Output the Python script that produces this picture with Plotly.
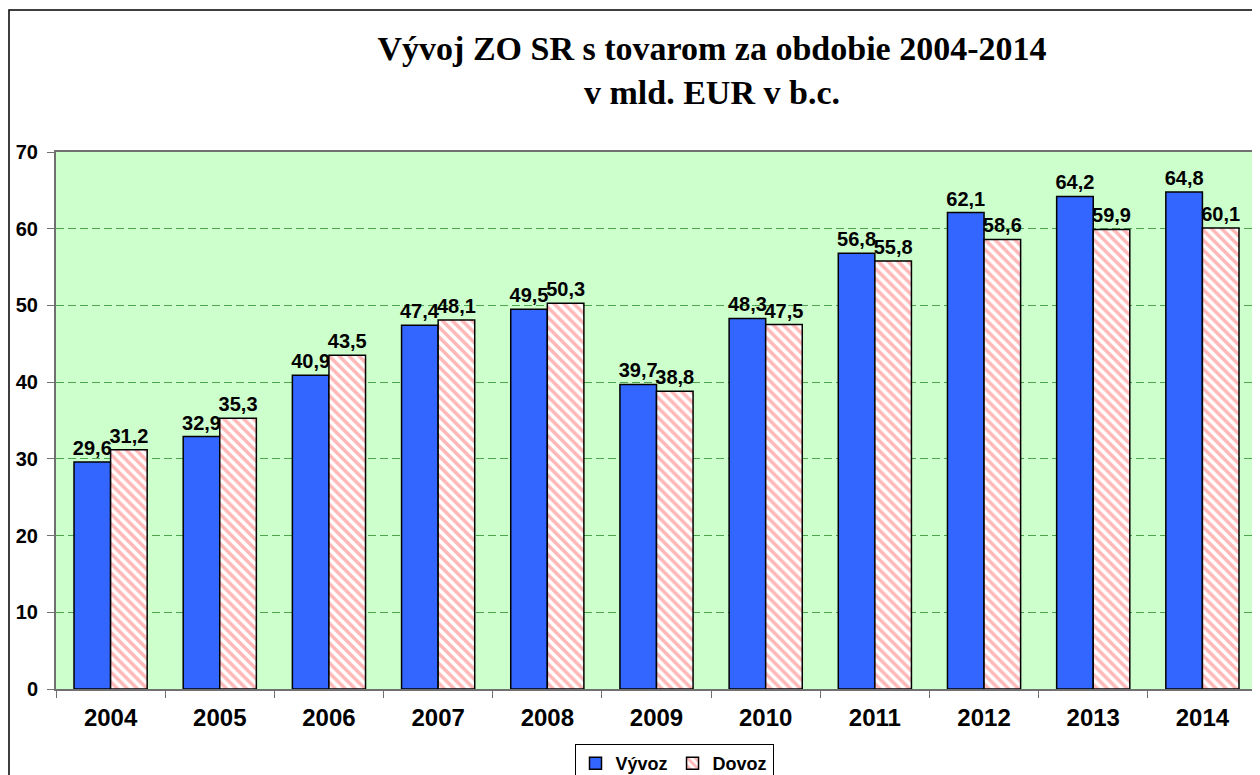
import plotly.graph_objects as go

years = ["2004", "2005", "2006", "2007", "2008", "2009", "2010", "2011", "2012", "2013", "2014"]
vyvoz = [29.6, 32.9, 40.9, 47.4, 49.5, 39.7, 48.3, 56.8, 62.1, 64.2, 64.8]
dovoz = [31.2, 35.3, 43.5, 48.1, 50.3, 38.8, 47.5, 55.8, 58.6, 59.9, 60.1]

OFF = 8  # default page body margin
W, H = 1260 - OFF, 775 - OFF
# plot area in reference pixels
L, R, T, B = 56, 1257, 152, 689

def px2x(p):
    return (p - L) / (R - L)

def py2y(p):
    return (B - p) / (B - T)

lab_font = dict(family="Liberation Sans", size=20, color="black", weight="bold")

fig = go.Figure()
fig.add_trace(go.Bar(
    x=years, y=vyvoz, name="Vývoz",
    marker=dict(color="#3366FF", line=dict(color="black", width=1.5)),
    texttemplate="%{y:.1f}", textposition="outside", constraintext="none",
    textfont=lab_font, cliponaxis=False,
))
fig.add_trace(go.Bar(
    x=years, y=dovoz, name="Dovoz",
    marker=dict(color="white", line=dict(color="black", width=1.5),
                pattern=dict(shape="\\", fgcolor="#FF7070", bgcolor="white", size=7, solidity=0.5)),
    texttemplate="%{y:.1f}", textposition="outside", constraintext="none",
    textfont=lab_font, cliponaxis=False,
))

fig.update_layout(
    width=W, height=H,
    margin=dict(l=L - OFF, r=W - (R - OFF), t=T - OFF, b=H - (B - OFF), autoexpand=False),
    paper_bgcolor="white",
    plot_bgcolor="#CCFFCC",
    separators=", ",
    barmode="group",
    bargap=0.33,
    bargroupgap=0,
    title=dict(
        text="<b>Vývoj ZO SR s tovarom za obdobie 2004-2014<br>v mld. EUR v b.c.</b>",
        x=(712 - OFF) / W, xanchor="center",
        y=1 - (60 - OFF) / H, yanchor="middle",
        font=dict(family="Liberation Serif", size=34, color="black"),
    ),
    legend=dict(
        orientation="h", x=px2x(674), xanchor="center", y=py2y(744), yanchor="top",
        bordercolor="black", borderwidth=1, bgcolor="white",
        font=dict(family="Liberation Sans", size=18, color="black", weight="bold"),
        itemwidth=30, traceorder="normal",
    ),
    showlegend=True,
)

fig.update_xaxes(
    showline=True, linecolor="#707070", linewidth=2, mirror=True,
    ticks="outside", tickson="boundaries", ticklen=7, tickcolor="#707070",
    tickfont=dict(family="Liberation Sans", size=24, color="black", weight="bold"),
    ticklabelstandoff=6,
    showgrid=False,
)
fig.update_yaxes(
    range=[0, 70], dtick=10,
    showline=True, linecolor="#707070", linewidth=2, mirror=True,
    ticks="outside", ticklen=7, tickcolor="#707070",
    tickfont=dict(family="Liberation Sans", size=20, color="black", weight="bold"),
    ticklabelstandoff=5,
    showgrid=True, gridcolor="#4CA64C", griddash="8px,4px", gridwidth=1,
    zeroline=False,
)

fig.add_shape(type="rect", xref="paper", yref="paper",
              x0=px2x(9), x1=px2x(1275), y0=py2y(800), y1=py2y(10),
              line=dict(color="black", width=1.5), fillcolor="rgba(0,0,0,0)", layer="below")

fig.write_html("out.html")
